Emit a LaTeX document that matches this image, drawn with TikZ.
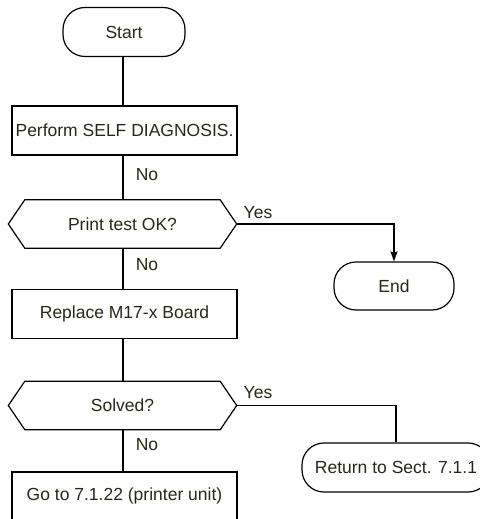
\documentclass[tikz,border=0pt]{standalone}
\usepackage{fontspec}
\setmainfont{Liberation Sans}
\usetikzlibrary{arrows.meta,calc}
\definecolor{txt}{RGB}{40,40,20}
\begin{document}
\begin{tikzpicture}[x=1pt,y=-1pt,
  every node/.style={font=\fontsize{17.5}{20}\selectfont, text=txt, inner sep=0pt},
  term/.style={draw, line width=1.2pt, rounded corners=22pt, minimum height=49pt},
  procbox/.style={draw, line width=1.2pt, minimum width=225pt, minimum height=49pt},
  decbox/.style={minimum width=195pt, minimum height=48pt},
  hexline/.style={line width=1.2pt},
  conn/.style={line width=1.2pt},
  lbl/.style={}
]
\useasboundingbox (0,0) rectangle (479,519);
% nodes
\node[term, minimum width=122pt] (start) at (124,32) {Start};
\node[procbox] (p1) at (124.5,130.5) {Perform SELF DIAGNOSIS.};
\node[decbox] (d1) at (122.5,224) {Print test OK?};
\node[procbox] (p2) at (124.5,314) {Replace M17-x Board};
\node[decbox] (d2) at (122.5,405.5) {Solved?};
\node[procbox, minimum height=48pt] (p3) at (124.5,496) {Go to 7.1.22 (printer unit)};
\node[term, minimum width=120pt, minimum height=48pt] (end) at (394,286) {End};
\node[term, minimum width=188pt] (ret) at (396,467.5) {Return to Sect. 7.1.1};
% hexagon outlines
\foreach \d in {d1,d2}{
  \draw[hexline] (\d.north west) -- (\d.north east) -- ($(\d.east)+(16.5,0)$)
    -- (\d.south east) -- (\d.south west) -- ($(\d.west)+(-16.5,0)$) -- cycle;
}
\coordinate (d1r) at ($(d1.east)+(16.5,0)$);
\coordinate (d2r) at ($(d2.east)+(16.5,0)$);
% connectors
\draw[conn] (start.south -| 123,0) -- (p1.north -| 123,0);
\draw[conn] (p1.south -| 123,0) -- (d1.north -| 123,0);
\draw[conn] (d1.south -| 123,0) -- (p2.north -| 123,0);
\draw[conn] (p2.south -| 123,0) -- (d2.north -| 123,0);
\draw[conn] (d2.south -| 123,0) -- (p3.north -| 123,0);
\draw[conn, -{Stealth[length=10pt,width=7pt,inset=1.5pt]}] (d1r) -| (end.north);
\draw[conn] (d2r) -| (ret.north);
% labels
\node[lbl] (no1) at (147,175) {No};
\node[lbl] (no2) at (147,265) {No};
\node[lbl] (no3) at (147,445) {No};
\node[lbl] (yes1) at (258,213) {Yes};
\node[lbl] (yes2) at (258,393) {Yes};
\end{tikzpicture}
\end{document}
